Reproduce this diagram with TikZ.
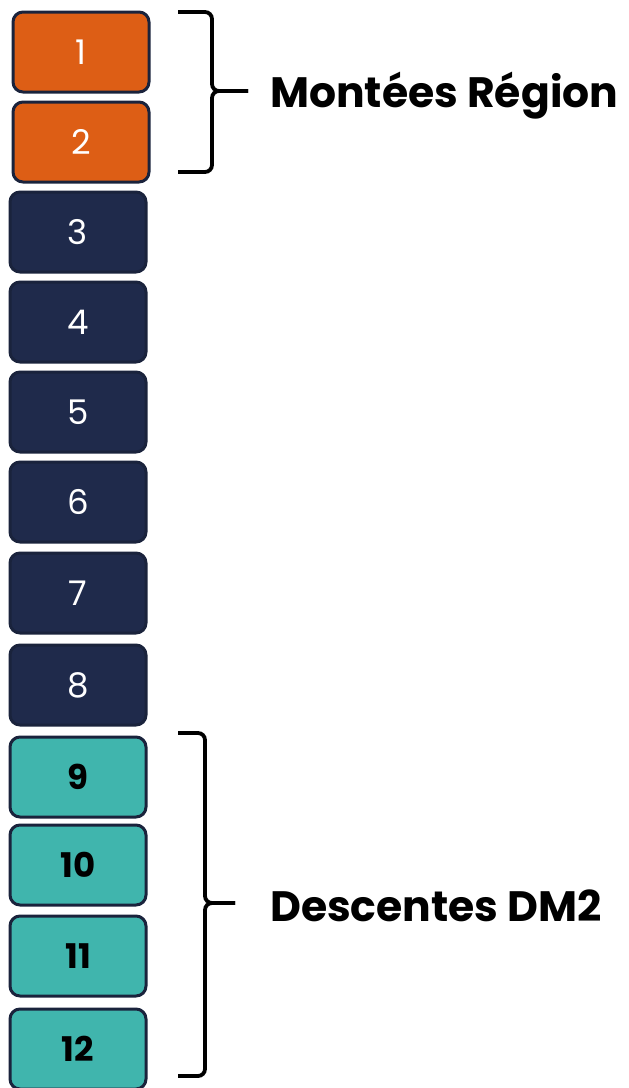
\documentclass[tikz,border=0pt]{standalone}
\usepackage{fontspec}
\setmainfont{Poppins}
\usetikzlibrary{positioning,calc}
\definecolor{rgorange}{RGB}{221,94,21}
\definecolor{rgnavy}{RGB}{31,42,75}
\definecolor{rgteal}{RGB}{64,181,173}
\definecolor{rgedge}{RGB}{26,35,60}
\tikzset{
  blk/.style={draw=rgedge, line width=3pt, rounded corners=10pt,
      minimum width=136pt, minimum height=80pt, inner sep=0pt, font=\fontsize{34}{34}\selectfont},
  up/.style={blk, fill=rgorange, text=white},
  mid/.style={blk, fill=rgnavy, text=white},
  dn/.style={blk, fill=rgteal, text=black, font=\fontsize{34}{34}\selectfont\bfseries},
  brc/.style={draw=black, line width=3.8pt, rounded corners=7pt},
  lbl/.style={font=\fontsize{42.5}{42.5}\selectfont\bfseries, anchor=west, inner sep=0pt},
}
\begin{document}
\begin{tikzpicture}[x=1pt, y=-1pt]
  \useasboundingbox (0,0) rectangle (629,1088);
  % stack of boxes
  \node[up] (b1) at (81,52) {1};
  \node[up] (b2) at (81,142) {2};
  \foreach \i/\y in {3/232,4/322,5/412,6/502,7/593,8/685}
    \node[mid] (b\i) at (78,\y) {\i};
  \foreach \i/\y in {9/777,10/865,11/956,12/1049}
    \node[dn] (b\i) at (78,\y) {\i};
  % upper brace
  \coordinate (t1) at (178,12);
  \coordinate (m1) at (248,91);
  \coordinate (e1) at (178,172);
  \draw[brc] (t1) -- (212,12) -- (212,91) -- (m1);
  \draw[brc] (m1) -- (212,91) -- (212,172) -- (e1);
  \node[lbl] (r1) at (270,96) {Montées Région};
  % lower brace
  \coordinate (t2) at (178,733);
  \coordinate (m2) at (235,903);
  \coordinate (e2) at (178,1076);
  \draw[brc] (t2) -- (205,733) -- (205,903) -- (m2);
  \draw[brc] (m2) -- (205,903) -- (205,1076) -- (e2);
  \node[lbl] (r2) at (270,906) {Descentes DM2};
\end{tikzpicture}
\end{document}
